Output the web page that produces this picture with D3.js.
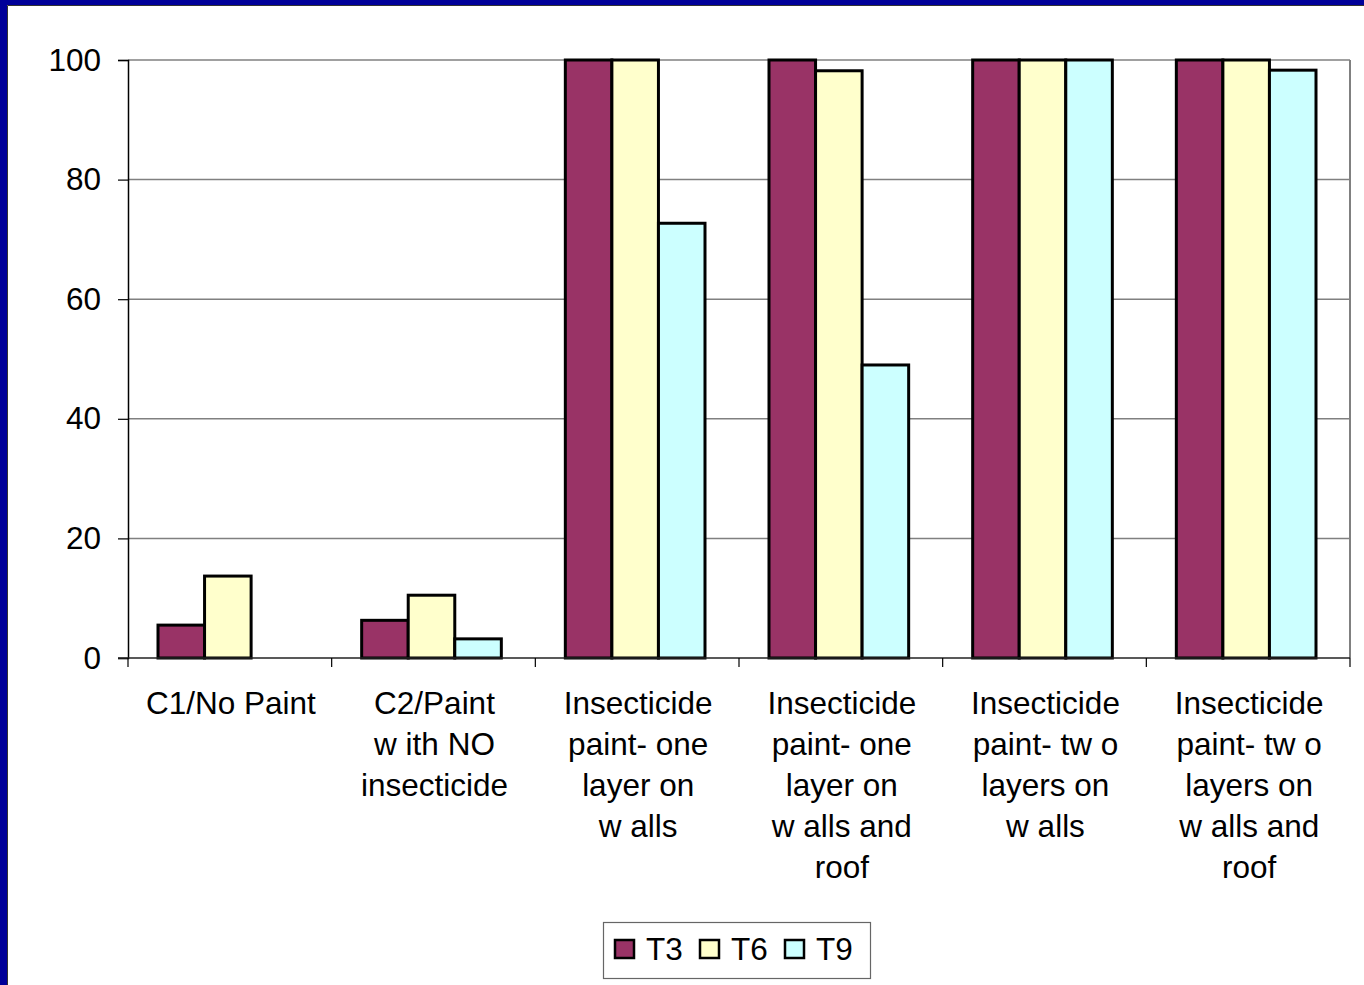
<!DOCTYPE html>
<html><head><meta charset="utf-8">
<script src="https://cdn.jsdelivr.net/npm/d3@7"></script>
<style>html,body{margin:0;padding:0;background:#fff;overflow:hidden}</style>
</head><body>
<script>
const categories = [
  ["C1/No Paint"],
  ["C2/Paint", "w ith NO", "insecticide"],
  ["Insecticide", "paint- one", "layer on", "w alls"],
  ["Insecticide", "paint- one", "layer on", "w alls and", "roof"],
  ["Insecticide", "paint- tw o", "layers on", "w alls"],
  ["Insecticide", "paint- tw o", "layers on", "w alls and", "roof"]
];
const seriesNames = ["T3", "T6", "T9"];
const T3 = [5.5, 6.3, 100, 100, 100, 100];
const T6 = [13.7, 10.5, 100, 98.2, 100, 100];
const T9 = [null, 3.2, 72.7, 49.0, 100, 98.3];
const seriesValues = [T3, T6, T9];
const colors = ["#993366", "#FFFFCC", "#CCFFFF"];
const yTicks = [0, 20, 40, 60, 80, 100];

const W = 1364, H = 985;
const FS = 31.5;
const FF = "'Liberation Sans', Arial, sans-serif";
const svg = d3.select("body").append("svg").attr("width", W).attr("height", H)
  .style("font-family", FF);

svg.append("rect").attr("x",0).attr("y",0).attr("width",W).attr("height",H).attr("fill","#fff");
// blue frame
svg.append("rect").attr("x",0).attr("y",0).attr("width",W).attr("height",5).attr("fill","#000099");
svg.append("rect").attr("x",0).attr("y",0).attr("width",7).attr("height",H).attr("fill","#000099");
svg.append("line").attr("x1",7.5).attr("x2",W).attr("y1",5.5).attr("y2",5.5).attr("stroke","#333").attr("stroke-width",1);
svg.append("line").attr("x1",7.5).attr("x2",7.5).attr("y1",5.5).attr("y2",H).attr("stroke","#333").attr("stroke-width",1);

const L = 128, R = 1350, T = 60, B = 658;
const x0 = d3.scaleBand().domain(d3.range(categories.length)).range([L, R]).paddingInner(0).paddingOuter(0);
const x1 = d3.scaleBand().domain(d3.range(seriesNames.length)).range([30, x0.bandwidth() - 34]).padding(0);
const y = d3.scaleLinear().domain([0, 100]).range([B, T]);

// gridlines
svg.append("g").selectAll("line").data(yTicks.filter(d => d > 0)).join("line")
  .attr("x1", L).attr("x2", R).attr("y1", d => y(d)).attr("y2", d => y(d))
  .attr("stroke", "#808080").attr("stroke-width", 1.5);
// right border
svg.append("line").attr("x1", R).attr("x2", R).attr("y1", T).attr("y2", B)
  .attr("stroke", "#808080").attr("stroke-width", 2);

// bars
const groups = svg.append("g").selectAll("g").data(categories).join("g")
  .attr("transform", (d, i) => `translate(${x0(i)},0)`);
groups.selectAll("rect").data((d, i) => seriesValues.map((s, k) => ({k, v: s[i]})).filter(o => o.v != null))
  .join("rect")
  .attr("x", o => x1(o.k)).attr("width", x1.bandwidth())
  .attr("y", o => y(o.v)).attr("height", o => B - y(o.v))
  .attr("fill", o => colors[o.k]).attr("stroke", "#000").attr("stroke-width", 3);

// y axis
const yAxis = d3.axisLeft(y).tickValues(yTicks).tickSize(10).tickPadding(17);
const ya = svg.append("g").attr("transform", `translate(${L},0)`).call(yAxis);
ya.attr("font-family", FF).attr("font-size", FS);
ya.select(".domain").attr("stroke", "#000").attr("stroke-width", 1.5);
ya.selectAll(".tick line").attr("stroke", "#000").attr("stroke-width", 1.2);
ya.selectAll(".tick text").attr("font-size", FS).attr("fill", "#000").attr("font-family", FF);

// x axis line and ticks at boundaries
svg.append("line").attr("x1", L - 10).attr("x2", R).attr("y1", B).attr("y2", B)
  .attr("stroke", "#222").attr("stroke-width", 1.5);
const bounds = d3.range(categories.length + 1).map(i => i < categories.length ? x0(i) : R);
svg.append("g").selectAll("line").data(bounds).join("line")
  .attr("x1", d => d).attr("x2", d => d).attr("y1", B).attr("y2", B + 9)
  .attr("stroke", "#000").attr("stroke-width", 1.2);

// category labels
const lab = svg.append("g").selectAll("text").data(categories).join("text")
  .attr("text-anchor", "middle").attr("font-size", FS).attr("fill", "#000");
lab.each(function(lines, i) {
  d3.select(this).selectAll("tspan").data(lines).join("tspan")
    .attr("x", x0(i) + x0.bandwidth() / 2 + 1)
    .attr("y", (d, j) => 714 + j * 41)
    .text(d => d);
});

// legend
const lg = svg.append("g");
lg.append("rect").attr("x", 603.5).attr("y", 922.5).attr("width", 267).attr("height", 56)
  .attr("fill", "#fff").attr("stroke", "#666").attr("stroke-width", 1.2);
const items = lg.selectAll("g").data(seriesNames).join("g")
  .attr("transform", (d, i) => `translate(${615 + i * 85},940)`);
items.append("rect").attr("width", 19).attr("height", 18)
  .attr("fill", (d, i) => colors[i]).attr("stroke", "#000").attr("stroke-width", 2.5);
items.append("text").attr("x", 31).attr("y", 20).attr("font-size", FS).attr("fill", "#000").text(d => d);
</script>
</body></html>
